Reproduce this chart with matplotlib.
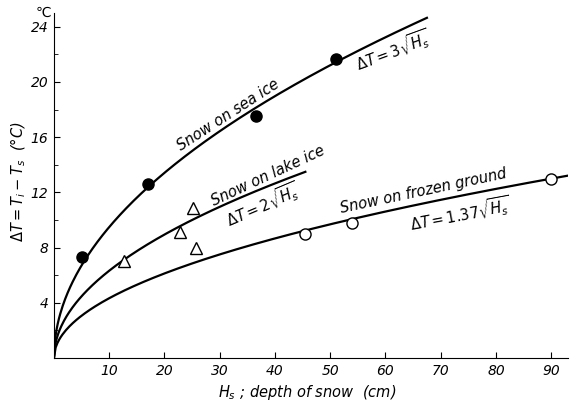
import numpy as np
import matplotlib.pyplot as plt
from matplotlib.ticker import MultipleLocator

# measured points
sea_x = [5.1, 17.0, 36.5, 51.0]
sea_y = [7.3, 12.6, 17.5, 21.7]
lake_x = [12.7, 22.8, 25.1, 25.7]
lake_y = [7.0, 9.1, 10.9, 8.0]
ground_x = [45.5, 53.9, 89.9]
ground_y = [9.0, 9.8, 13.0]

# fitted coefficients: dT = k * sqrt(Hs)
coef_sea = 3.0
coef_lake = 2.0
coef_ground = 1.37
xmax_sea = 67.5
xmax_lake = 45.5
xmax_ground = 93.0

plt.rcParams["mathtext.fontset"] = "dejavusans"

fig = plt.figure(figsize=(5.8, 4.05), dpi=100)
ax = fig.add_axes([0.093, 0.116, 0.886, 0.852])

for k, xm in ((coef_sea, xmax_sea), (coef_lake, xmax_lake), (coef_ground, xmax_ground)):
    xs = np.linspace(0, xm, 300)
    ax.plot(xs, k * np.sqrt(xs), color="black", lw=1.6, zorder=2)

ax.plot(sea_x, sea_y, "o", ms=8, color="black", zorder=3)
ax.plot(lake_x, lake_y, "^", ms=8.5, mfc="white", mec="black", mew=1.0, zorder=3)
ax.plot(ground_x, ground_y, "o", ms=8, mfc="white", mec="black", mew=1.0, zorder=3)

ax.set_xlim(0, 93)
ax.set_ylim(0, 25.0)
ax.spines["top"].set_visible(False)
ax.spines["right"].set_visible(False)
ax.set_xticks(range(10, 91, 10))
ax.set_yticks(range(4, 25, 4))
ax.yaxis.set_minor_locator(MultipleLocator(2))
ax.tick_params(direction="in", length=4, labelsize=10, pad=4)
ax.tick_params(which="minor", direction="in", length=3)
for lab in ax.get_xticklabels() + ax.get_yticklabels():
    lab.set_style("italic")

# axis titles placed as in the reference
fig.text(307 / 580, 1 - 392 / 405, r"$H_s$ ; depth of snow  (cm)", fontsize=10.5,
         style="italic", ha="center", va="center")
fig.text(18 / 580, 1 - 182 / 405, r"$\Delta T = T_i - T_s$  (°C)", fontsize=10.5,
         style="italic", ha="center", va="center", rotation=90)
fig.text(43 / 580, 1 - 13 / 405, "℃", fontsize=10, ha="center", va="center")

txt = dict(fontsize=10.5, style="italic", ha="center", va="center", rotation_mode="anchor")
ax.text(31.5, 17.6, "Snow on sea ice", rotation=33, **txt)
ax.text(61.3, 22.3, r"$\Delta T = 3\sqrt{H_s}$", rotation=20, **txt)
ax.text(38.8, 13.2, "Snow on lake ice", rotation=25, **txt)
ax.text(37.8, 11.1, r"$\Delta T = 2\sqrt{H_s}$", rotation=23, **txt)
ax.text(66.9, 12.1, "Snow on frozen ground", rotation=12, **txt)
ax.text(73.4, 10.4, r"$\Delta T = 1.37\sqrt{H_s}$", rotation=10.5, **txt)

fig.savefig("out.png", dpi=100)
